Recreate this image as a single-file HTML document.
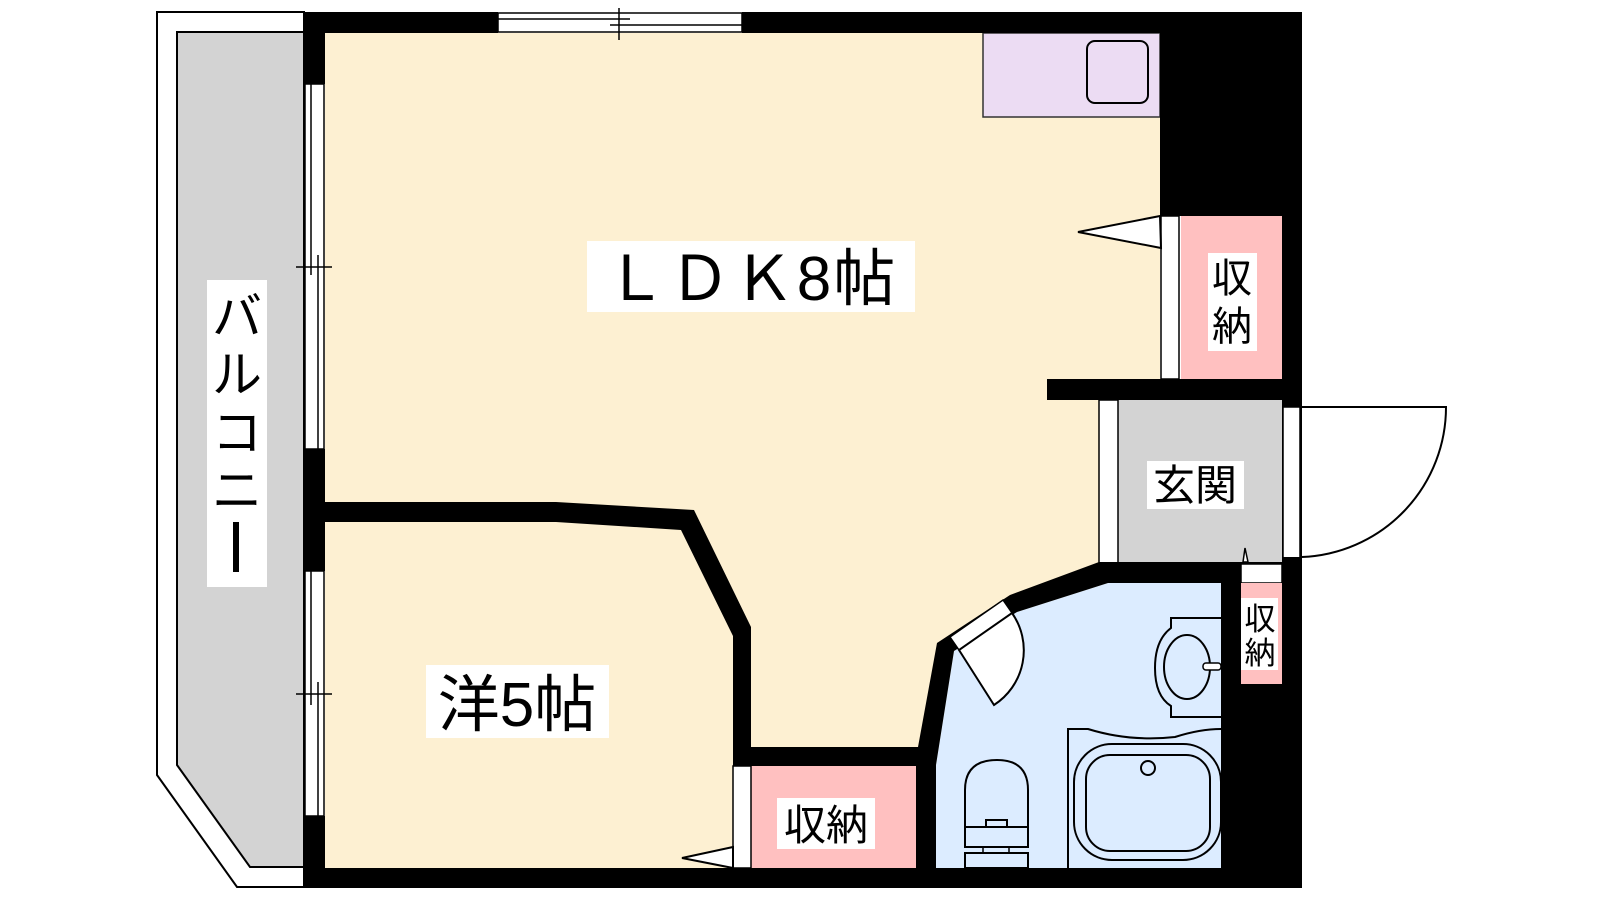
<!DOCTYPE html>
<html><head><meta charset="utf-8"><style>
html,body{margin:0;padding:0;background:#fff;}
svg{display:block;}
text{font-family:"Liberation Sans","Noto Sans CJK JP",sans-serif;fill:#000;}
</style></head><body>
<svg width="1600" height="900" viewBox="0 0 1600 900" xmlns="http://www.w3.org/2000/svg">
<path d="M157,12 L304,12 L304,887 L237,887 L157,775 Z" fill="#fff" stroke="#000" stroke-width="2"/>
<path d="M177,32 L304,32 L304,867 L250,867 L177,765 Z" fill="#d3d3d3" stroke="#000" stroke-width="2"/>
<rect x="325" y="33" width="835" height="840" fill="#fdf0d2"/>
<rect x="983" y="33" width="177" height="84" fill="#ecdcf3" stroke="#333" stroke-width="1.5"/>
<rect x="1087" y="41" width="61" height="62" rx="8" fill="none" stroke="#000" stroke-width="2"/>
<rect x="1160" y="12" width="142" height="204" fill="#000"/>
<rect x="1282" y="12" width="20" height="876" fill="#000"/>
<rect x="1181" y="216" width="101" height="163" fill="#ffc0c0"/>
<rect x="1161" y="216" width="18" height="163" fill="#fff" stroke="#000" stroke-width="1.5"/>
<polygon points="1160,216 1078,232 1161,248" fill="#fff" stroke="#000" stroke-width="2"/>
<rect x="1208" y="253" width="49" height="98" fill="#fff"/>
<text x="1232" y="292" font-size="40" text-anchor="middle">収</text>
<text x="1232" y="340" font-size="40" text-anchor="middle">納</text>
<rect x="1047" y="379" width="255" height="21" fill="#000"/>
<rect x="1118" y="400" width="164" height="162" fill="#d3d3d3"/>
<rect x="1099" y="400" width="19" height="166" fill="#fff" stroke="#000" stroke-width="1.5"/>
<rect x="1147" y="461" width="97" height="48" fill="#fff"/>
<text x="1195" y="500" font-size="42" text-anchor="middle">玄関</text>
<rect x="1283" y="407" width="17" height="155" fill="#fff" stroke="#000" stroke-width="1.5"/>
<path d="M1302,407 L1446,407 A150,150 0 0 1 1302,557" fill="#fff" stroke="#000" stroke-width="2"/>
<rect x="1282" y="557" width="20" height="331" fill="#000"/>
<polygon points="1108,583 1221,583 1221,868 936,868 936,765 954,651 1017,612" fill="#dcecff"/>
<polygon points="1099,562 1282,562 1282,583 1241,583 1241,888 1221,888 1221,583 1108,583 1017,612 954,651 936,765 918,765 918,747 937,643 1010,595" fill="#000"/>
<rect x="1241" y="684" width="41" height="204" fill="#000"/>
<rect x="1241" y="564" width="41" height="19" fill="#fff" stroke="#000" stroke-width="1.5"/>
<rect x="1241" y="583" width="41" height="101" fill="#ffc0c0"/>
<rect x="1241" y="598" width="37" height="72" fill="#fff"/>
<text x="1260" y="630" font-size="31" text-anchor="middle">収</text>
<text x="1260" y="664" font-size="31" text-anchor="middle">納</text>
<polygon points="1245,548 1243,562 1248,562" fill="#fff" stroke="#000" stroke-width="1.5"/>
<polygon points="950,637 1003,600 1012,613 959,650" fill="#fff" stroke="#000" stroke-width="1.5"/>
<path d="M959,650 L994,705 A65,65 0 0 0 1012,613 Z" fill="#fff" stroke="#000" stroke-width="2"/>
<path d="M1221,618 L1171,618 L1171,628 Q1155,640 1155,668 Q1155,696 1171,706 L1171,717 L1221,717" fill="none" stroke="#000" stroke-width="2"/>
<ellipse cx="1187" cy="667" rx="23" ry="32" fill="none" stroke="#000" stroke-width="2"/>
<rect x="1203" y="663" width="18" height="7" rx="3" fill="#fff" stroke="#000" stroke-width="1.5"/>
<path d="M1068,868 L1068,729 L1088,729 Q1130,742 1175,737 Q1200,729 1221,729" fill="none" stroke="#000" stroke-width="2"/>
<rect x="1074" y="744" width="147" height="116" rx="38" fill="none" stroke="#000" stroke-width="2"/>
<rect x="1086" y="755" width="124" height="96" rx="24" fill="none" stroke="#000" stroke-width="2"/>
<circle cx="1148" cy="768" r="7" fill="none" stroke="#000" stroke-width="2"/>
<path d="M965,827 L965,790 Q965,760 997,760 Q1028,760 1028,790 L1028,827 Z" fill="none" stroke="#000" stroke-width="2"/>
<path d="M965,827 L986,827 L986,820 L1007,820 L1007,827 L1028,827 L1028,847 L965,847 Z" fill="none" stroke="#000" stroke-width="2"/>
<rect x="983" y="847" width="26" height="6" fill="none" stroke="#000" stroke-width="1.5"/>
<rect x="965" y="853" width="63" height="15" fill="none" stroke="#000" stroke-width="2"/>
<polygon points="325,502 556,502 694,510 751,627 751,747 936,747 936,766 733,766 733,636 681,530 556,522 325,522" fill="#000"/>
<rect x="916" y="747" width="20" height="141" fill="#000"/>
<rect x="751" y="766" width="165" height="102" fill="#ffc0c0"/>
<rect x="733" y="766" width="18" height="102" fill="#fff" stroke="#000" stroke-width="1.5"/>
<polygon points="733,847 682,858 733,868" fill="#fff" stroke="#000" stroke-width="2"/>
<rect x="777" y="798" width="98" height="51" fill="#fff"/>
<text x="826" y="840" font-size="42" text-anchor="middle">収納</text>
<rect x="304" y="12" width="194" height="21" fill="#000"/>
<rect x="742" y="12" width="540" height="21" fill="#000"/>
<rect x="304" y="12" width="21" height="72" fill="#000"/>
<rect x="304" y="449" width="21" height="122" fill="#000"/>
<rect x="304" y="816" width="21" height="72" fill="#000"/>
<rect x="304" y="868" width="998" height="20" fill="#000"/>
<g fill="none" stroke="#000" stroke-width="1.5">
<rect x="498" y="13" width="244" height="19"/>
<line x1="498" y1="19" x2="630" y2="19"/><line x1="610" y1="25" x2="742" y2="25"/>
<line x1="619" y1="8" x2="619" y2="40"/>
<rect x="305" y="84" width="19" height="365"/>
<line x1="311" y1="84" x2="311" y2="275"/><line x1="318" y1="255" x2="318" y2="449"/>
<line x1="296" y1="267" x2="332" y2="267"/>
<rect x="305" y="571" width="19" height="245"/>
<line x1="311" y1="571" x2="311" y2="705"/><line x1="318" y1="682" x2="318" y2="816"/>
<line x1="296" y1="694" x2="332" y2="694"/>
</g>
<rect x="587" y="241" width="328" height="71" fill="#fff"/>
<text x="751" y="300" font-size="62" text-anchor="middle" letter-spacing="2">ＬＤＫ8帖</text>
<rect x="426" y="665" width="183" height="73" fill="#fff"/>
<text x="517" y="726" font-size="62" text-anchor="middle">洋5帖</text>
<rect x="207" y="280" width="60" height="307" fill="#fff"/>
<text x="237" y="334" font-size="50" text-anchor="middle">バ</text>
<text x="237" y="392" font-size="50" text-anchor="middle">ル</text>
<text x="237" y="450" font-size="50" text-anchor="middle">コ</text>
<text x="237" y="508" font-size="50" text-anchor="middle">ニ</text>
<rect x="233" y="522" width="6" height="50" fill="#000"/>
</svg>
</body></html>
